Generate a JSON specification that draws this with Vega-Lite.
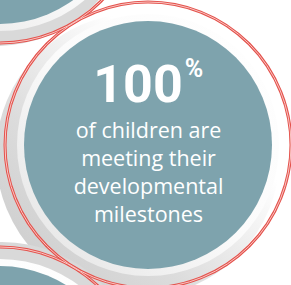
{
  "$schema": "https://vega.github.io/schema/vega-lite/v6.json",
  "width": 291,
  "height": 285,
  "autosize": {"type": "fit", "contains": "padding"},
  "padding": 0,
  "background": "white",
  "config": {"view": {"stroke": null}},
  "data": {
    "values": [
      {"id": "top", "cx": 0, "cy": -100},
      {"id": "main", "cx": 148, "cy": 145, "headline": "100", "unit": "%", "note": "of children are\nmeeting their\ndevelopmental\nmilestones"},
      {"id": "bottom", "cx": 0, "cy": 390}
    ]
  },
  "encoding": {
    "x": {"field": "cx", "type": "quantitative", "scale": {"domain": [0, 291], "nice": false, "zero": false}, "axis": null},
    "y": {"field": "cy", "type": "quantitative", "scale": {"domain": [0, 285], "nice": false, "zero": false, "reverse": true}, "axis": null}
  },
  "layer": [
    {
      "transform": [{"filter": "datum.id === 'main'"}],
      "mark": {"type": "point", "shape": "circle", "filled": true, "opacity": 1, "strokeWidth": 0, "size": 80656, "xOffset": -10, "yOffset": 10, "clip": true,
        "fill": {"gradient": "linear", "x1": 1, "y1": 0, "x2": 0, "y2": 1, "stops": [
          {"offset": 0, "color": "#ffffff"}, {"offset": 0.3, "color": "#ffffff"}, {"offset": 0.65, "color": "#dcdcdc"}, {"offset": 1, "color": "#c8c8c8"}]}}
    },
    {
      "transform": [{"filter": "datum.id === 'top'"}],
      "mark": {"type": "point", "shape": "circle", "filled": true, "opacity": 1, "strokeWidth": 0, "size": 76176, "xOffset": -4, "yOffset": 8, "clip": true, "fill": "#d9d9d9"}
    },
    {
      "transform": [{"filter": "datum.id === 'bottom'"}],
      "mark": {"type": "point", "shape": "circle", "filled": true, "opacity": 1, "strokeWidth": 0, "size": 78400, "xOffset": 2, "yOffset": -8, "clip": true, "fill": "#d9d9d9"}
    },
    {
      "mark": {"type": "point", "shape": "circle", "filled": true, "opacity": 1, "strokeWidth": 0, "size": 68644, "clip": true,
        "fill": {"gradient": "linear", "x1": 1, "y1": 0, "x2": 0, "y2": 1, "stops": [
          {"offset": 0, "color": "#ffffff"}, {"offset": 0.5, "color": "#fbfbfb"}, {"offset": 1, "color": "#e2e2e2"}]}}
    },
    {
      "mark": {"type": "point", "shape": "circle", "filled": true, "opacity": 1, "strokeWidth": 0, "size": 61504, "clip": true, "fill": "#7ea3ad"}
    },
    {
      "mark": {"type": "point", "shape": "circle", "filled": false, "opacity": 1, "size": 81796, "clip": true, "stroke": "#e4524c", "strokeWidth": 3}
    },
    {
      "mark": {"type": "point", "shape": "circle", "filled": false, "opacity": 1, "size": 81796, "clip": true, "stroke": "#f9c6c3", "strokeWidth": 1}
    },
    {
      "transform": [{"filter": "datum.id === 'main'"}],
      "mark": {"type": "text", "font": "Roboto", "fontWeight": "bold", "fontSize": 52, "fill": "#ffffff", "align": "center", "baseline": "alphabetic", "dx": -10, "dy": -43},
      "encoding": {"text": {"field": "headline"}}
    },
    {
      "transform": [{"filter": "datum.id === 'main'"}],
      "mark": {"type": "text", "font": "Roboto", "fontWeight": "bold", "fontSize": 25, "fill": "#ffffff", "align": "center", "baseline": "alphabetic", "dx": 46, "dy": -68},
      "encoding": {"text": {"field": "unit"}}
    },
    {
      "transform": [{"filter": "datum.id === 'main'"}],
      "mark": {"type": "text", "font": "Open Sans", "fontSize": 21.5, "fill": "#ffffff", "align": "center", "baseline": "alphabetic", "lineBreak": "\n", "lineHeight": 28, "dx": 0.5, "dy": -7},
      "encoding": {"text": {"field": "note"}}
    }
  ]
}
